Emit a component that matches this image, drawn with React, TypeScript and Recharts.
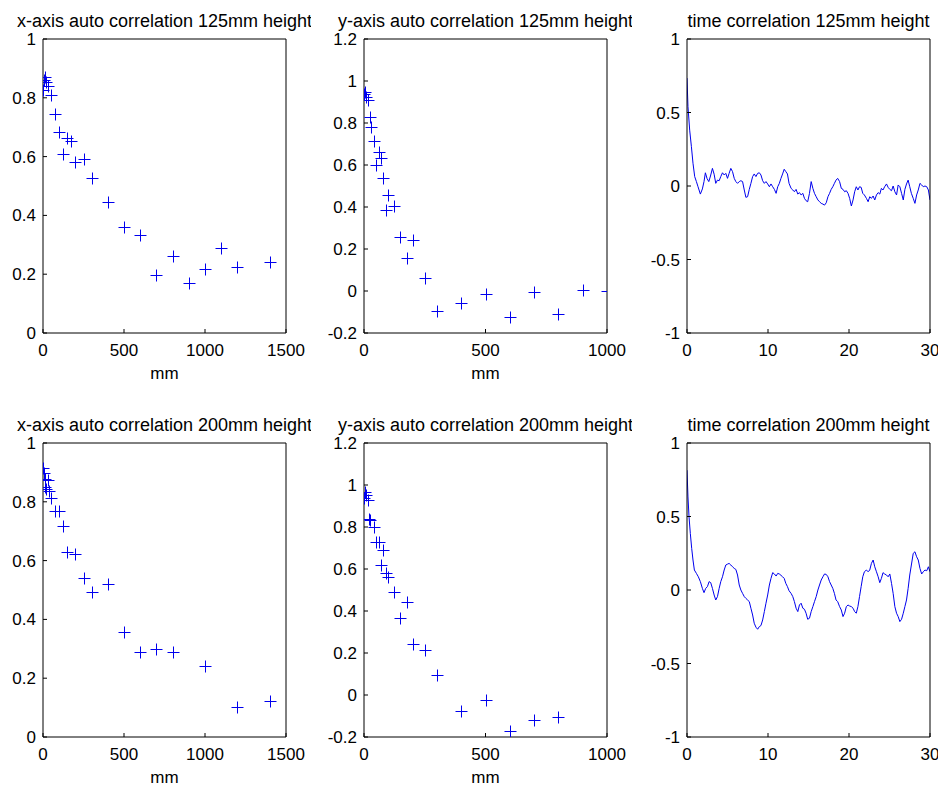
import React from "react";
import { ScatterChart, Scatter, LineChart, Line, XAxis, YAxis } from "recharts";

const FONT = '"Liberation Sans", Arial, Helvetica, sans-serif';
const BLUE = "#0000ee";

// x-axis auto correlation, 125mm height
const xLag125 = [0, 5, 10, 20, 30, 50, 75, 100, 125, 150, 175, 200, 250, 300, 400, 500, 600, 700, 800, 900, 1000, 1100, 1200, 1400];
const xCorr125 = [0.825, 0.86, 0.87, 0.855, 0.84, 0.808, 0.745, 0.682, 0.609, 0.662, 0.653, 0.58, 0.591, 0.528, 0.447, 0.36, 0.333, 0.197, 0.263, 0.17, 0.217, 0.29, 0.223, 0.24];

// y-axis auto correlation, 125mm height
const yLag125 = [0, 5, 10, 15, 25, 30, 40, 50, 60, 70, 80, 90, 100, 125, 150, 175, 200, 250, 300, 400, 500, 600, 700, 800, 900, 1000];
const yCorr125 = [0.94, 0.95, 0.926, 0.91, 0.828, 0.783, 0.712, 0.6, 0.664, 0.635, 0.537, 0.385, 0.457, 0.405, 0.258, 0.158, 0.242, 0.064, -0.095, -0.057, -0.012, -0.124, -0.007, -0.108, 0.004, 0.002];

// x-axis auto correlation, 200mm height
const xLag200 = [0, 5, 10, 15, 20, 30, 40, 50, 75, 100, 125, 150, 200, 250, 300, 400, 500, 600, 700, 800, 1000, 1200, 1400];
const xCorr200 = [0.916, 0.898, 0.85, 0.879, 0.845, 0.873, 0.837, 0.813, 0.769, 0.769, 0.719, 0.63, 0.624, 0.54, 0.494, 0.52, 0.357, 0.288, 0.299, 0.288, 0.243, 0.102, 0.121];

// y-axis auto correlation, 200mm height
const yLag200 = [0, 5, 10, 15, 20, 25, 40, 50, 60, 70, 80, 90, 100, 125, 150, 175, 200, 250, 300, 400, 500, 600, 700, 800];
const yCorr200 = [0.94, 0.967, 0.951, 0.928, 0.837, 0.833, 0.8, 0.73, 0.73, 0.619, 0.69, 0.579, 0.56, 0.492, 0.368, 0.441, 0.243, 0.215, 0.096, -0.075, -0.025, -0.173, -0.121, -0.104];

// time correlation, 125mm height  [t, r]
const time125 = [
  [0, 0.734], [0.12, 0.54], [0.33, 0.38], [0.54, 0.27], [0.74, 0.155], [0.95, 0.064], [1.16, 0.03], [1.36, -0.005], [1.65, -0.055], [1.9, -0.02],
  [2.1, 0.03], [2.27, 0.09], [2.48, 0.05], [2.69, 0.03], [2.9, 0.068], [3.14, 0.12], [3.35, 0.08], [3.55, 0.018], [3.76, 0.04], [3.97, 0.036],
  [4.17, 0.064], [4.38, 0.09], [4.59, 0.075], [4.79, 0.086], [5.0, 0.052], [5.2, 0.086], [5.41, 0.12], [5.62, 0.098], [5.83, 0.052], [6.03, 0.03],
  [6.24, 0.018], [6.45, 0.03], [6.65, 0.036], [6.86, 0.03], [7.07, -0.027], [7.27, -0.077], [7.48, -0.073], [7.69, -0.023], [7.89, 0.018], [8.1, 0.064],
  [8.3, 0.082], [8.51, 0.064], [8.72, 0.086], [8.93, 0.09], [9.13, 0.075], [9.34, 0.036], [9.55, 0.018], [9.75, 0.03], [9.96, 0.014], [10.17, -0.005],
  [10.37, 0.014], [10.58, -0.005], [10.79, -0.023], [11.0, -0.05], [11.2, -0.005], [11.4, 0.018], [11.6, 0.052], [11.8, 0.082], [12.0, 0.114], [12.2, 0.098],
  [12.4, 0.082], [12.6, 0.018], [12.85, -0.016], [13.06, -0.027], [13.26, -0.039], [13.47, -0.023], [13.68, -0.055], [13.88, -0.045], [14.09, -0.061], [14.3, -0.05],
  [14.5, -0.084], [14.7, -0.1], [14.9, -0.107], [15.12, -0.05], [15.33, 0.03], [15.54, -0.016], [15.74, -0.05], [15.95, -0.073], [16.16, -0.095], [16.36, -0.107],
  [16.57, -0.118], [16.78, -0.123], [16.98, -0.13], [17.19, -0.114], [17.4, -0.073], [17.6, -0.05], [17.8, -0.023], [18.0, -0.005], [18.2, 0.018], [18.4, 0.04],
  [18.6, 0.052], [18.84, 0.03], [19.05, -0.016], [19.26, -0.023], [19.46, -0.039], [19.67, -0.032], [19.88, -0.05], [20.08, -0.084], [20.29, -0.136], [20.5, -0.095],
  [20.7, -0.039], [20.9, -0.005], [21.1, -0.027], [21.3, -0.005], [21.5, -0.009], [21.7, -0.05], [21.9, -0.061], [22.15, -0.084], [22.36, -0.107], [22.56, -0.073],
  [22.77, -0.084], [22.98, -0.068], [23.18, -0.095], [23.39, -0.061], [23.6, -0.045], [23.8, -0.055], [24.0, -0.016], [24.2, -0.027], [24.4, -0.005], [24.63, 0.014],
  [24.83, -0.009], [25.04, -0.023], [25.25, -0.032], [25.45, 0.0], [25.66, -0.039], [25.87, -0.061], [26.07, 0.007], [26.28, -0.005], [26.49, -0.05], [26.7, -0.095],
  [26.9, -0.023], [27.1, 0.014], [27.3, 0.04], [27.5, -0.005], [27.7, -0.05], [27.93, -0.084], [28.14, -0.118], [28.35, -0.061], [28.55, -0.027], [28.76, 0.018],
  [28.97, 0.007], [29.17, -0.005], [29.38, 0.0], [29.6, -0.005], [29.8, -0.027], [30.0, -0.095],
];

// time correlation, 200mm height  [t, r]
const time200 = [
  [0, 0.815], [0.12, 0.633], [0.25, 0.498], [0.41, 0.385], [0.58, 0.283], [0.74, 0.204], [0.91, 0.136], [1.16, 0.113], [1.4, 0.09], [1.65, 0.057],
  [1.9, 0.011], [2.1, -0.018], [2.31, 0.011], [2.52, 0.023], [2.73, 0.057], [2.93, 0.05], [3.14, 0.011], [3.35, -0.034], [3.55, -0.068], [3.76, -0.045],
  [3.97, 0.011], [4.17, 0.057], [4.38, 0.09], [4.59, 0.136], [4.79, 0.17], [5.0, 0.176], [5.2, 0.181], [5.41, 0.17], [5.62, 0.158], [5.83, 0.147],
  [6.03, 0.14], [6.24, 0.102], [6.45, 0.034], [6.65, 0.0], [6.86, -0.023], [7.07, -0.045], [7.27, -0.057], [7.48, -0.068], [7.69, -0.079], [7.89, -0.124],
  [8.1, -0.17], [8.3, -0.226], [8.51, -0.253], [8.72, -0.267], [8.93, -0.249], [9.13, -0.242], [9.34, -0.204], [9.55, -0.147], [9.75, -0.09], [9.96, -0.034],
  [10.17, 0.034], [10.37, 0.079], [10.58, 0.118], [10.79, 0.109], [11.0, 0.095], [11.2, 0.113], [11.4, 0.109], [11.6, 0.1], [11.8, 0.09], [12.0, 0.079],
  [12.2, 0.045], [12.4, 0.023], [12.6, -0.005], [12.85, -0.023], [13.06, -0.045], [13.26, -0.079], [13.47, -0.124], [13.68, -0.147], [13.88, -0.102], [14.09, -0.09],
  [14.3, -0.124], [14.5, -0.131], [14.7, -0.158], [14.9, -0.199], [15.12, -0.192], [15.33, -0.147], [15.54, -0.113], [15.74, -0.079], [15.95, -0.045], [16.16, 0.0],
  [16.36, 0.034], [16.57, 0.068], [16.78, 0.09], [16.98, 0.109], [17.19, 0.106], [17.4, 0.09], [17.6, 0.057], [17.8, 0.034], [18.0, 0.011], [18.2, -0.023],
  [18.4, -0.068], [18.6, -0.079], [18.84, -0.113], [19.05, -0.136], [19.26, -0.181], [19.46, -0.158], [19.67, -0.113], [19.88, -0.102], [20.08, -0.109], [20.29, -0.113],
  [20.5, -0.124], [20.7, -0.147], [20.9, -0.158], [21.1, -0.113], [21.3, -0.045], [21.5, 0.023], [21.7, 0.09], [21.9, 0.124], [22.15, 0.136], [22.36, 0.124],
  [22.56, 0.136], [22.77, 0.181], [22.98, 0.204], [23.18, 0.158], [23.39, 0.124], [23.6, 0.09], [23.8, 0.05], [24.0, 0.079], [24.2, 0.118], [24.4, 0.109],
  [24.63, 0.102], [24.83, 0.09], [25.04, 0.109], [25.25, 0.045], [25.45, -0.023], [25.66, -0.113], [25.87, -0.158], [26.07, -0.181], [26.28, -0.215], [26.49, -0.199],
  [26.7, -0.158], [26.9, -0.113], [27.1, -0.068], [27.3, 0.011], [27.5, 0.102], [27.7, 0.17], [27.93, 0.249], [28.14, 0.26], [28.35, 0.226], [28.55, 0.204],
  [28.76, 0.147], [28.97, 0.109], [29.17, 0.124], [29.38, 0.136], [29.6, 0.131], [29.8, 0.158], [30.0, 0.124],
];

const lagTicksX = [0, 500, 1000, 1500];
const lagTicksY = [0, 500, 1000];
const corrTicksX = [0, 0.2, 0.4, 0.6, 0.8, 1];
const corrTicksY = [-0.2, 0, 0.2, 0.4, 0.6, 0.8, 1, 1.2];
const timeTicks = [0, 10, 20, 30];
const timeCorrTicks = [-1, -0.5, 0, 0.5, 1];

// plot box 243x294 inside each chart; top/right axes take 1px each
const W = 40 + 243 + 1 + 24;
const H = 30 + 294 + 50;
const MARGIN = { top: 29, right: 24, bottom: 0, left: 0 };
const tickStyle = { fontSize: 17, fill: "#000", fontFamily: FONT };

// matlab style '+' marker, snapped to the pixel grid so every cross is crisp
const Plus = (p: any) => {
  const x = Math.round(p.cx) + 0.5;
  const y = Math.round(p.cy) + 0.5;
  return (
    <path d={`M${x - 6},${y}H${x + 6}M${x},${y - 6}V${y + 6}`} stroke={BLUE} strokeWidth={1} fill="none" />
  );
};
const Nothing = () => <g />;

function axes(o: any) {
  return [
    <XAxis
      key="xb"
      xAxisId="b"
      type="number"
      dataKey={o.xKey}
      domain={o.xDomain}
      ticks={o.xTicks}
      interval={0}
      allowDataOverflow
      height={50}
      tickSize={-4}
      tickMargin={15}
      stroke="#000"
      tick={tickStyle}
      label={
        o.xLabel
          ? { value: o.xLabel, position: "insideBottom", offset: 4, fill: "#000", fontSize: 17, fontFamily: FONT }
          : undefined
      }
    />,
    <XAxis
      key="xt"
      xAxisId="t"
      orientation="top"
      type="number"
      dataKey={o.xKey}
      domain={o.xDomain}
      ticks={o.xTicks}
      interval={0}
      allowDataOverflow
      height={1}
      tickSize={-4}
      tick={false}
      stroke="#000"
      label={{ value: o.title, position: "top", offset: 11, fill: "#000", fontSize: 18, fontFamily: FONT }}
    />,
    <YAxis
      key="yl"
      yAxisId="l"
      type="number"
      dataKey={o.yKey}
      domain={o.yDomain}
      ticks={o.yTicks}
      interval={0}
      allowDataOverflow
      width={40}
      tickSize={-4}
      tickMargin={11}
      stroke="#000"
      tick={tickStyle}
    />,
    <YAxis
      key="yr"
      yAxisId="r"
      orientation="right"
      type="number"
      dataKey={o.yKey}
      domain={o.yDomain}
      ticks={o.yTicks}
      interval={0}
      allowDataOverflow
      width={1}
      tickSize={-4}
      tick={false}
      stroke="#000"
    />,
  ];
}

function ScatterPanel({ left, top, title, lags, corrs, xDomain, xTicks, yDomain, yTicks }: any) {
  const data = lags.map((x: number, i: number) => ({ x, y: corrs[i] }));
  return (
    <div style={{ position: "absolute", left: left - 40, top: top - 30 }}>
      <ScatterChart width={W} height={H} margin={MARGIN}>
        {axes({ xKey: "x", yKey: "y", xDomain, xTicks, yDomain, yTicks, title, xLabel: "mm" })}
        <Scatter data={data} xAxisId="t" yAxisId="r" shape={Nothing} isAnimationActive={false} />
        <Scatter data={data} xAxisId="b" yAxisId="l" shape={Plus} isAnimationActive={false} />
      </ScatterChart>
    </div>
  );
}

function TimePanel({ left, top, title, series }: any) {
  const data = series.map((p: number[]) => ({ t: p[0], r: p[1] }));
  return (
    <div style={{ position: "absolute", left: left - 40, top: top - 30 }}>
      <LineChart width={W} height={H} margin={MARGIN} data={data}>
        {axes({ xKey: "t", yKey: "r", xDomain: [0, 30], xTicks: timeTicks, yDomain: [-1, 1], yTicks: timeCorrTicks, title })}
        <Line
          type="linear"
          dataKey="r"
          xAxisId="t"
          yAxisId="r"
          stroke="none"
          dot={false}
          activeDot={false}
          isAnimationActive={false}
        />
        <Line
          type="linear"
          dataKey="r"
          xAxisId="b"
          yAxisId="l"
          stroke={BLUE}
          strokeWidth={1}
          dot={false}
          activeDot={false}
          isAnimationActive={false}
        />
      </LineChart>
    </div>
  );
}

export default function App() {
  return (
    <div
      style={{
        position: "absolute",
        left: 0,
        top: 0,
        width: 938,
        height: 786,
        overflow: "hidden",
        background: "#fff",
        fontFamily: FONT,
      }}
    >
      <ScatterPanel
        left={43}
        top={39}
        title="x-axis auto correlation 125mm height"
        lags={xLag125}
        corrs={xCorr125}
        xDomain={[0, 1500]}
        xTicks={lagTicksX}
        yDomain={[0, 1]}
        yTicks={corrTicksX}
      />
      <ScatterPanel
        left={364}
        top={39}
        title="y-axis auto correlation 125mm height"
        lags={yLag125}
        corrs={yCorr125}
        xDomain={[0, 1000]}
        xTicks={lagTicksY}
        yDomain={[-0.2, 1.2]}
        yTicks={corrTicksY}
      />
      <TimePanel left={687} top={39} title="time correlation 125mm height" series={time125} />
      <ScatterPanel
        left={43}
        top={443}
        title="x-axis auto correlation 200mm height"
        lags={xLag200}
        corrs={xCorr200}
        xDomain={[0, 1500]}
        xTicks={lagTicksX}
        yDomain={[0, 1]}
        yTicks={corrTicksX}
      />
      <ScatterPanel
        left={364}
        top={443}
        title="y-axis auto correlation 200mm height"
        lags={yLag200}
        corrs={yCorr200}
        xDomain={[0, 1000]}
        xTicks={lagTicksY}
        yDomain={[-0.2, 1.2]}
        yTicks={corrTicksY}
      />
      <TimePanel left={687} top={443} title="time correlation 200mm height" series={time200} />
    </div>
  );
}
